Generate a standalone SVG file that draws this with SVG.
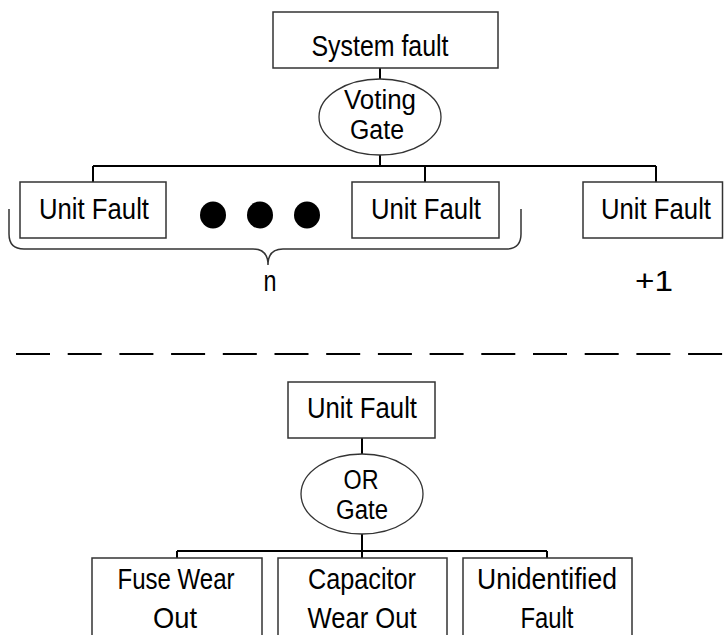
<svg xmlns="http://www.w3.org/2000/svg" width="724" height="635" viewBox="0 0 724 635">
<style>
.box{fill:#fff;stroke:#333;stroke-width:1.5}
.gate{fill:#fff;stroke:#333;stroke-width:1.3}
.conn{fill:none;stroke:#000;stroke-width:2}
.brace{fill:none;stroke:#333;stroke-width:1.5}
.dash{fill:none;stroke:#000;stroke-width:2;stroke-dasharray:34 17.7}
text{font-family:"Liberation Sans",Arial,sans-serif;font-size:30px;fill:#000;text-anchor:middle}
.g{font-size:27px}
</style>
<rect width="724" height="635" fill="#fff"/>
<g id="connectors">
<path class="conn" d="M380,68V79M380,155V166M93,166H656M93,166V182M425,166V182M656,166V182"/>
<path class="conn" d="M362,438V454M362,534V558M177,551H547M177,551V558M547,551V558"/>
</g>
<g id="system-fault"><rect class="box" x="273" y="12" width="225" height="56"/><text x="380" y="56" textLength="137" lengthAdjust="spacingAndGlyphs">System fault</text></g>
<g id="voting-gate"><ellipse class="gate" cx="380" cy="117" rx="61" ry="38"/><text class="g" x="380" y="109" textLength="72" lengthAdjust="spacingAndGlyphs">Voting</text><text class="g" x="377" y="139" textLength="54" lengthAdjust="spacingAndGlyphs">Gate</text></g>
<g id="unit-fault-1"><rect class="box" x="20" y="182" width="146" height="56"/><text x="94" y="219" textLength="110" lengthAdjust="spacingAndGlyphs">Unit Fault</text></g>
<g id="dots"><ellipse cx="213" cy="215" rx="13" ry="13.5"/><ellipse cx="260" cy="215" rx="13" ry="13.5"/><ellipse cx="307" cy="215" rx="13" ry="13.5"/></g>
<g id="unit-fault-n"><rect class="box" x="352" y="182" width="147" height="56"/><text x="426" y="219" textLength="110" lengthAdjust="spacingAndGlyphs">Unit Fault</text></g>
<g id="unit-fault-extra"><rect class="box" x="583" y="182" width="139.5" height="56"/><text x="656" y="219" textLength="110" lengthAdjust="spacingAndGlyphs">Unit Fault</text></g>
<g id="brace"><path class="brace" d="M9,209V234Q9,249 24,249H253Q268,249 268,265Q268,249 283,249H506Q521,249 521,234V209"/><text x="270" y="291" textLength="13" lengthAdjust="spacingAndGlyphs">n</text></g>
<g id="plus-one"><text x="654" y="291" textLength="38" lengthAdjust="spacingAndGlyphs">+1</text></g>
<g id="separator"><line class="dash" x1="16" y1="354" x2="724" y2="354"/></g>
<g id="unit-fault-detail"><rect class="box" x="288" y="382" width="147" height="56"/><text x="362" y="418" textLength="110" lengthAdjust="spacingAndGlyphs">Unit Fault</text></g>
<g id="or-gate"><ellipse class="gate" cx="362" cy="494" rx="61" ry="40"/><text class="g" x="361" y="489" textLength="35" lengthAdjust="spacingAndGlyphs">OR</text><text class="g" x="362" y="519" textLength="52" lengthAdjust="spacingAndGlyphs">Gate</text></g>
<g id="fuse"><rect class="box" x="92" y="558" width="170" height="100"/><text x="176" y="589" textLength="117" lengthAdjust="spacingAndGlyphs">Fuse Wear</text><text x="175" y="628" textLength="44" lengthAdjust="spacingAndGlyphs">Out</text></g>
<g id="capacitor"><rect class="box" x="278" y="558" width="169" height="100"/><text x="362" y="589" textLength="108" lengthAdjust="spacingAndGlyphs">Capacitor</text><text x="362" y="628" textLength="109" lengthAdjust="spacingAndGlyphs">Wear Out</text></g>
<g id="unidentified"><rect class="box" x="463" y="558" width="169" height="100"/><text x="547" y="589" textLength="140" lengthAdjust="spacingAndGlyphs">Unidentified</text><text x="547" y="628" textLength="53" lengthAdjust="spacingAndGlyphs">Fault</text></g>
</svg>
